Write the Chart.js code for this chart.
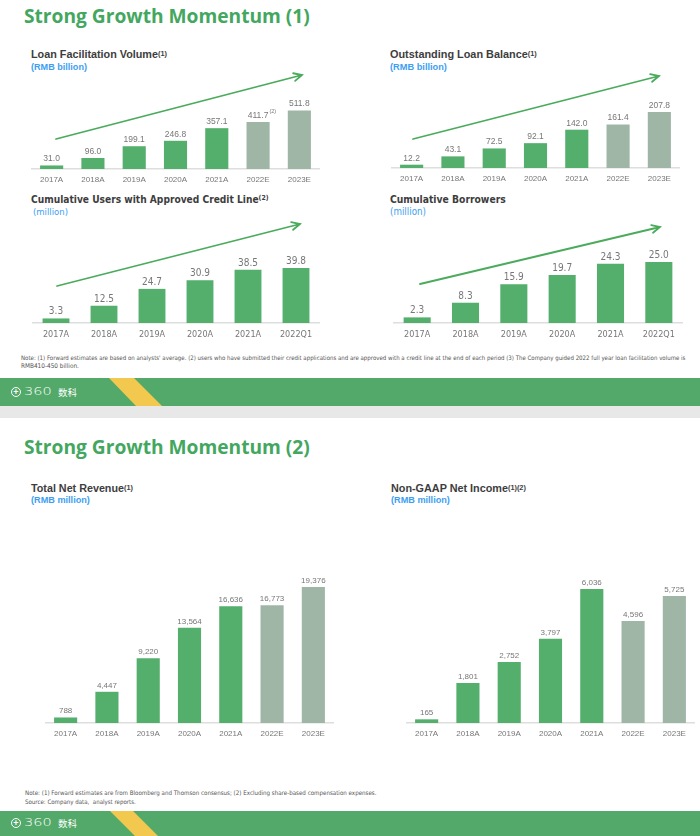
<!DOCTYPE html>
<html>
<head>
<meta charset="utf-8">
<script src="https://cdn.jsdelivr.net/npm/chart.js@4.4.0/dist/chart.umd.min.js"></script>
<style>
  body { margin: 0; width: 700px; height: 836px; position: relative; overflow: hidden; background: #fff; font-family: "Liberation Sans", Arial, sans-serif; }
  .abs { position: absolute; white-space: nowrap; }
  .title { font-family: "Open Sans"; font-weight: 700; font-size: 20px; color: #43a75f; line-height: 26px; }
  .ct { font-weight: 700; font-size: 10.5px; color: #3d3d3d; line-height: 13px; }
  .ct sup { font-size: 0.68em; vertical-align: top; position: relative; top: -1px; }
  .cs { font-weight: 700; font-size: 9px; color: #3d9ef2; line-height: 12px; }
  .narrow { font-family: "Liberation Sans Narrow", "DejaVu Sans Condensed", "Roboto Condensed", Roboto, sans-serif; }
  .cs.narrow { font-weight: 400; }
  .note { font-family: "Liberation Sans Narrow", "DejaVu Sans Condensed", "Roboto Condensed", Roboto, sans-serif; font-size: 6.6px; color: #555; line-height: 9px; }
  .band { position: absolute; left: 0; width: 700px; background: #53a96a; }
  .logo { color: #fff; height: 14px; line-height: 14px; }
  .logo .ring { position: absolute; left: 0; top: 2px; width: 8px; height: 8px; border: 1.3px solid #fff; border-radius: 50%; font-size: 9px; line-height: 8px; text-align: center; font-weight: 700; }
  .logo .num { position: absolute; left: 13px; top: 0; font-family: "DejaVu Sans"; font-weight: 300; font-size: 10px; transform: scaleX(1.45); transform-origin: left center; }
  .logo .cn { position: absolute; left: 47px; top: 0; font-family: "Noto Sans CJK SC"; font-size: 9.5px; }
  canvas { position: absolute; }
</style>
</head>
<body>

<!-- slide 1 -->
<div class="abs title" style="left:24px;top:3px" data-w="286">Strong Growth Momentum (1)</div>

<div class="abs ct" style="left:31px;top:48px" data-w="136">Loan Facilitation Volume<sup>(1)</sup></div>
<div class="abs cs" style="left:31px;top:61px" data-w="56">(RMB billion)</div>
<div class="abs ct" style="left:390px;top:48px" data-w="147">Outstanding Loan Balance<sup>(1)</sup></div>
<div class="abs cs" style="left:390px;top:61px" data-w="57">(RMB billion)</div>

<div class="abs ct narrow" style="left:31px;top:193px" data-w="238">Cumulative Users with Approved Credit Line<sup>(2)</sup></div>
<div class="abs cs narrow" style="left:33px;top:206px" data-w="35">(million)</div>
<div class="abs ct narrow" style="left:390px;top:193px" data-w="116">Cumulative Borrowers</div>
<div class="abs cs narrow" style="left:390px;top:206px" data-w="36">(million)</div>

<canvas id="c1" width="289" height="129" style="left:31px;top:62px"></canvas>
<canvas id="c2" width="289" height="128" style="left:391px;top:62px"></canvas>
<canvas id="c3" width="288" height="127" style="left:32px;top:218px"></canvas>
<canvas id="c4" width="290" height="127" style="left:393px;top:218px"></canvas>

<div class="abs note" style="left:21px;top:353px" data-w="665">Note: (1) Forward estimates are based on analysts' average. (2) users who have submitted their credit applications and are approved with a credit line at the end of each period (3) The Company guided 2022 full year loan facilitation volume is</div>
<div class="abs note" style="left:21px;top:362px" data-w="58">RMB410-450 billion.</div>

<div class="band" style="top:378px;height:28px"></div>
<svg class="abs" style="left:0;top:378px" width="700" height="28"><polygon points="109,0 134,0 162,28 136,28" fill="#f2c94e"/></svg>
<div class="abs logo" style="left:11px;top:385px"><span class="ring">+</span><span class="num">360</span><span class="cn">数科</span></div>
<div class="abs" style="left:0;top:406px;width:700px;height:12px;background:#e8e8e8"></div>

<!-- slide 2 -->
<div class="abs title" style="left:24px;top:434px" data-w="286">Strong Growth Momentum (2)</div>

<div class="abs ct" style="left:31px;top:482px" data-w="102">Total Net Revenue<sup>(1)</sup></div>
<div class="abs cs" style="left:31px;top:494px" data-w="59">(RMB million)</div>
<div class="abs ct" style="left:391px;top:482px" data-w="135">Non-GAAP Net Income<sup>(1)(2)</sup></div>
<div class="abs cs" style="left:391px;top:494px" data-w="59">(RMB million)</div>

<canvas id="c5" width="289" height="185" style="left:45px;top:560px"></canvas>
<canvas id="c6" width="289" height="185" style="left:406px;top:560px"></canvas>

<div class="abs note" style="left:25px;top:788px" data-w="352">Note: (1) Forward estimates are from Bloomberg and Thomson consensus; (2) Excluding share-based compensation expenses.</div>
<div class="abs note" style="left:25px;top:797px" data-w="111">Source: Company data,&nbsp; analyst reports.</div>

<div class="band" style="top:811px;height:25px"></div>
<svg class="abs" style="left:0;top:811px" width="700" height="25"><polygon points="110,0 133,0 158,25 135,25" fill="#f2c94e"/></svg>
<div class="abs logo" style="left:11px;top:816px"><span class="ring">+</span><span class="num">360</span><span class="cn">数科</span></div>

<script>
// Data
const years = ['2017A', '2018A', '2019A', '2020A', '2021A', '2022E', '2023E'];
const periods = ['2017A', '2018A', '2019A', '2020A', '2021A', '2022Q1'];
const loanVolume = [31.0, 96.0, 199.1, 246.8, 357.1, 411.7, 511.8];
const loanBalance = [12.2, 43.1, 72.5, 92.1, 142.0, 161.4, 207.8];
const creditUsers = [3.3, 12.5, 24.7, 30.9, 38.5, 39.8];
const borrowers = [2.3, 8.3, 15.9, 19.7, 24.3, 25.0];
const netRevenue = [788, 4447, 9220, 13564, 16636, 16773, 19376];
const netIncome = [165, 1801, 2752, 3797, 6036, 4596, 5725];

const GREEN = '#54ae6c';
const ESTIMATE = '#9fb6a7';
const NARROW = '"Liberation Sans Narrow", "DejaVu Sans Condensed", "Roboto Condensed", Roboto, sans-serif';

// extra drawing settings per canvas (kept outside chart options)
const extras = {};

const valueLabels = {
  id: 'valueLabels',
  afterDatasetsDraw(chart) {
    const ex = extras[chart.canvas.id];
    const ctx = chart.ctx;
    const meta = chart.getDatasetMeta(0);
    const data = chart.data.datasets[0].data;
    ctx.save();
    ctx.font = ex.valueFont;
    ctx.fillStyle = '#777';
    ctx.textAlign = 'center';
    ctx.textBaseline = 'alphabetic';
    meta.data.forEach((bar, i) => {
      const v = data[i];
      const txt = ex.comma ? v.toLocaleString('en-US') : v.toFixed(1);
      ctx.fillText(txt, bar.x, bar.y - 4);
      if (ex.marks && ex.marks[i]) {
        const w = ctx.measureText(txt).width;
        ctx.save();
        ctx.font = '5.5px "Liberation Sans"';
        ctx.textAlign = 'left';
        ctx.fillText(ex.marks[i], bar.x + w / 2 + 1, bar.y - 9);
        ctx.restore();
      }
    });
    ctx.restore();
  }
};

const trendArrow = {
  id: 'trendArrow',
  afterDraw(chart) {
    const ex = extras[chart.canvas.id];
    if (!ex.arrow) return;
    const [x0, y0, x1, y1] = ex.arrow;
    const ctx = chart.ctx;
    const ang = Math.atan2(y1 - y0, x1 - x0);
    ctx.save();
    ctx.strokeStyle = '#4bab5c';
    ctx.lineWidth = 1.8;
    ctx.lineCap = 'round';
    ctx.beginPath();
    ctx.moveTo(x0, y0);
    ctx.lineTo(x1, y1);
    ctx.moveTo(x1 - 9 * Math.cos(ang - 0.45), y1 - 9 * Math.sin(ang - 0.45));
    ctx.lineTo(x1, y1);
    ctx.lineTo(x1 - 9 * Math.cos(ang + 0.45), y1 - 9 * Math.sin(ang + 0.45));
    ctx.stroke();
    ctx.restore();
  }
};

function barChart(id, labels, values, max, font) {
  return new Chart(document.getElementById(id), {
    type: 'bar',
    data: {
      labels: labels,
      datasets: [{
        data: values,
        backgroundColor: labels.map(l => l.endsWith('E') ? ESTIMATE : GREEN),
        barPercentage: 0.56,
        categoryPercentage: 1
      }]
    },
    options: {
      responsive: false,
      animation: false,
      layout: { padding: 0 },
      plugins: { legend: { display: false }, tooltip: { enabled: false } },
      scales: {
        x: {
          offset: true,
          grid: { display: false, drawTicks: false },
          border: { display: true, color: '#dedede', width: 1.5 },
          ticks: { color: '#777', font: font, padding: 6, maxRotation: 0 },
          afterFit: s => { s.height = 22; }
        },
        y: { display: false, min: 0, max: max }
      }
    },
    plugins: [valueLabels, trendArrow]
  });
}

const regular = { family: 'Liberation Sans', size: 8 };
const narrow = { family: NARROW, size: 9 };

extras.c1 = { valueFont: '8.5px "Liberation Sans"', arrow: [25, 77, 271, 13], marks: { 5: '(2)' } };
extras.c2 = { valueFont: '8.5px "Liberation Sans"', arrow: [22, 77, 268, 14] };
extras.c3 = { valueFont: '10px ' + NARROW, arrow: [25, 68, 268, 6] };
extras.c4 = { valueFont: '10px ' + NARROW, arrow: [27, 66, 267, 9] };
extras.c5 = { valueFont: '8px "Liberation Sans"', comma: true };
extras.c6 = { valueFont: '8px "Liberation Sans"', comma: true };

barChart('c1', years, loanVolume, 936, regular);
barChart('c2', years, loanBalance, 393, regular);
barChart('c3', periods, creditUsers, 76, narrow);
barChart('c4', periods, borrowers, 43, narrow);
barChart('c5', years, netRevenue, 23223, regular);
barChart('c6', years, netIncome, 7342, regular);

// fit text blocks to the widths measured on the slide
function fitText() {
  document.querySelectorAll('[data-w]').forEach(el => {
    const target = parseFloat(el.dataset.w);
    const w = el.getBoundingClientRect().width;
    if (w > 0) {
      const size = parseFloat(getComputedStyle(el).fontSize);
      el.style.fontSize = (size * target / w) + 'px';
    }
  });
}
fitText();
</script>
</body>
</html>
